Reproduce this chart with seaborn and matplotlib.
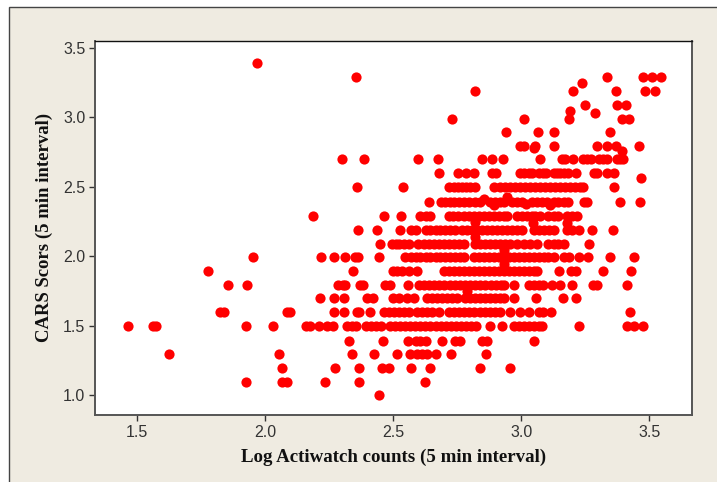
import matplotlib
matplotlib.use("Agg")
import matplotlib.pyplot as plt
from matplotlib.patches import Rectangle
import pandas as pd
import seaborn as sns

sns.set_theme(style="white")
plt.rcParams['font.family'] = ['Liberation Sans', 'DejaVu Sans']

# Row values: x positions
row_100 = [2.444]
row_110 = [1.924, 2.066, 2.086, 2.233, 2.367, 2.623]
row_120 = [2.066, 2.271, 2.367, 2.457, 2.483, 2.57, 2.643, 2.838, 2.955]
row_130 = [1.624, 2.052, 2.34, 2.425, 2.513, 2.565, 2.594, 2.613, 2.632, 2.665, 2.726, 2.862]
row_140 = [2.329, 2.458, 2.556, 2.587, 2.606, 2.626, 2.692, 2.743, 2.762, 2.847, 2.866, 3.051]
row_150 = [1.462, 1.56, 1.573, 1.924, 2.031, 2.159, 2.175, 2.211, 2.242, 2.266, 2.318, 2.337, 2.353,
           2.394, 2.414, 2.434, 2.453, 2.486, 2.505, 2.525, 2.545, 2.565, 2.585, 2.605, 2.625, 2.645,
           2.665, 2.685, 2.705, 2.725, 2.745, 2.765, 2.785, 2.805, 2.825, 2.877, 2.925, 2.97, 2.99,
           3.009, 3.029, 3.048, 3.068, 3.08, 3.226, 3.414, 3.44, 3.474]
row_160 = [1.823, 1.839, 2.086, 2.096, 2.27, 2.306, 2.359, 2.366, 2.409, 2.464, 2.483, 2.503, 2.522,
           2.541, 2.561, 2.594, 2.613, 2.632, 2.652, 2.678, 2.717, 2.736, 2.756, 2.775, 2.795, 2.814,
           2.84, 2.86, 2.879, 2.899, 2.918, 2.957, 2.996, 3.032, 3.068, 3.084, 3.116, 3.425]
row_170 = [2.214, 2.267, 2.306, 2.396, 2.422, 2.5, 2.522, 2.555, 2.581, 2.63, 2.652, 2.671, 2.691,
           2.71, 2.73, 2.749, 2.782, 2.801, 2.821, 2.84, 2.86, 2.879, 2.899, 2.918, 2.931, 2.97,
           3.056, 3.162, 3.212]
row_180 = [1.853, 1.93, 2.285, 2.303, 2.311, 2.372, 2.383, 2.466, 2.486, 2.558, 2.6, 2.62, 2.64, 2.66,
           2.68, 2.7, 2.72, 2.74, 2.76, 2.78, 2.8, 2.82, 2.84, 2.86, 2.88, 2.9, 2.92, 2.931, 2.97,
           3.029, 3.048, 3.068, 3.084, 3.119, 3.152, 3.197, 3.279, 3.295, 3.412]
row_190 = [1.775, 2.344, 2.499, 2.516, 2.535, 2.561, 2.591, 2.697, 2.717, 2.736, 2.756, 2.775, 2.795,
           2.814, 2.834, 2.853, 2.873, 2.892, 2.912, 2.931, 2.951, 2.97, 2.99, 3.009, 3.029, 3.048,
           3.061, 3.148, 3.196, 3.214, 3.318, 3.43]
row_200 = [1.954, 2.217, 2.267, 2.311, 2.35, 2.363, 2.444, 2.544, 2.568, 2.587, 2.606, 2.626, 2.645,
           2.665, 2.684, 2.704, 2.723, 2.743, 2.762, 2.775, 2.814, 2.834, 2.853, 2.873, 2.892, 2.912,
           2.931, 2.951, 2.97, 2.99, 3.009, 3.029, 3.048, 3.068, 3.087, 3.106, 3.126, 3.165, 3.188,
           3.227, 3.262, 3.347, 3.44]
row_210 = [2.45, 2.496, 2.512, 2.522, 2.541, 2.561, 2.596, 2.619, 2.639, 2.658, 2.678, 2.697, 2.717,
           2.736, 2.756, 2.775, 2.821, 2.84, 2.86, 2.879, 2.899, 2.918, 2.938, 2.957, 2.983, 3.009,
           3.035, 3.061, 3.106, 3.126, 3.145, 3.165, 3.265]
row_220 = [2.362, 2.437, 2.525, 2.568, 2.587, 2.626, 2.645, 2.665, 2.684, 2.704, 2.723, 2.743, 2.769,
           2.788, 2.808, 2.827, 2.847, 2.866, 2.886, 2.905, 2.925, 2.944, 2.964, 2.983, 3.003, 3.051,
           3.07, 3.09, 3.109, 3.126, 3.178, 3.197, 3.226, 3.275, 3.357]
row_230 = [2.188, 2.464, 2.531, 2.606, 2.626, 2.645, 2.717, 2.734, 2.752, 2.775, 2.795, 2.814, 2.834,
           2.853, 2.873, 2.892, 2.912, 2.931, 2.944, 2.983, 3.003, 3.022, 3.042, 3.055, 3.074, 3.106,
           3.126, 3.145, 3.178, 3.197, 3.217]
row_240 = [2.638, 2.687, 2.704, 2.721, 2.736, 2.756, 2.775, 2.795, 2.821, 2.84, 2.879, 2.899, 2.916,
           2.931, 2.964, 2.983, 3.003, 3.042, 3.061, 3.081, 3.1, 3.126, 3.145, 3.165, 3.184, 3.245,
           3.258, 3.386, 3.464]
row_250 = [2.357, 2.537, 2.717, 2.736, 2.752, 2.769, 2.786, 2.801, 2.821, 2.892, 2.918, 2.938, 2.957,
           2.977, 2.996, 3.016, 3.035, 3.055, 3.074, 3.094, 3.113, 3.133, 3.152, 3.171, 3.191, 3.21,
           3.23, 3.243, 3.362]
row_260 = [2.677, 2.751, 2.786, 2.817, 2.886, 2.903, 2.994, 3.009, 3.029, 3.042, 3.068, 3.084, 3.097,
           3.126, 3.139, 3.152, 3.165, 3.184, 3.214, 3.284, 3.297, 3.334, 3.364]
row_270 = [2.298, 2.387, 2.595, 2.673, 2.847, 2.886, 2.93, 3.075, 3.161, 3.171, 3.201, 3.24, 3.258,
           3.271, 3.305, 3.318, 3.336, 3.375, 3.386, 3.399]
row_280 = [2.994, 3.009, 3.053, 3.129, 3.297, 3.334, 3.369, 3.46]
row_290 = [2.939, 3.065, 3.129, 3.348]
row_300 = [2.73, 3.012, 3.187, 3.392, 3.422]
row_310 = [3.25, 3.374, 3.408]
row_320 = [2.818, 3.201, 3.371, 3.483, 3.522]
row_330 = [2.353, 3.336, 3.474, 3.512, 3.544]
row_340 = [1.969]

row_levels = [0.999, 1.095, 1.195, 1.297, 1.392, 1.5, 1.598, 1.7, 1.795, 1.896, 1.994, 2.09, 2.19,
              2.289, 2.39, 2.5, 2.595, 2.695, 2.793, 2.89, 2.99, 3.09, 3.186, 3.287, 3.39]
rows = [row_100, row_110, row_120, row_130, row_140, row_150, row_160, row_170, row_180, row_190,
        row_200, row_210, row_220, row_230, row_240, row_250, row_260, row_270, row_280, row_290,
        row_300, row_310, row_320, row_330, row_340]

# Points that sit off the rows
extra_x = [2.856, 2.892, 2.944, 3.018, 3.113, 2.818, 3.044, 3.18, 2.821, 2.931, 2.931, 2.788,
           3.236, 3.288, 3.19, 3.392, 3.469, 3.048]
extra_y = [2.41, 2.365, 2.425, 2.375, 2.365, 2.245, 2.24, 2.24, 2.14, 2.045, 1.945, 1.745,
           3.245, 3.03, 3.045, 2.755, 2.56, 2.78]

xs, ys = [], []
for level, row in zip(row_levels, rows):
    xs += row
    ys += [level] * len(row)
xs += extra_x
ys += extra_y
df = pd.DataFrame({"actiwatch": xs, "cars": ys})

x_ticks = [1.5, 2.0, 2.5, 3.0, 3.5]
y_ticks = [1.0, 1.5, 2.0, 2.5, 3.0, 3.5]

W, H = 717, 482
fig = plt.figure(figsize=(W / 100, H / 100), dpi=100, facecolor="white")
fig.add_artist(Rectangle((8.5 / W, -0.1), 1.0, 1.1 - 6.5 / H, transform=fig.transFigure,
                         facecolor="#EFEBE1", edgecolor="#444444", linewidth=1.0, zorder=-5))
ax = fig.add_axes([95 / W, 1 - 415 / H, (692.3 - 95) / W, (415 - 40.7) / H], facecolor="white")

sns.scatterplot(data=df, x="actiwatch", y="cars", color="#FF0000", s=54, linewidth=0, alpha=1,
                ax=ax, zorder=3)

ax.set_xlim(1.335, 3.668)
ax.set_ylim(0.856, 3.55)
ax.set_xticks(x_ticks)
ax.set_yticks(y_ticks)
ax.set_xticklabels([f"{t:.1f}" for t in x_ticks])
ax.set_yticklabels([f"{t:.1f}" for t in y_ticks])
ax.tick_params(axis="x", direction="out", length=4, width=1, color="#333333",
               labelcolor="#333333", labelsize=11.5, pad=3.5, bottom=True)
ax.tick_params(axis="y", direction="out", length=4, width=1, color="#333333",
               labelcolor="#333333", labelsize=11.5, pad=3, left=True)
ax.grid(False)
for side, col, lw in [("top", "#111111", 1.0), ("right", "#555555", 1.4),
                      ("left", "#555555", 1.4), ("bottom", "#555555", 1.4)]:
    ax.spines[side].set_visible(True)
    ax.spines[side].set_color(col)
    ax.spines[side].set_linewidth(lw)

ax.set_xlabel("Log Actiwatch counts (5 min interval)", family="Liberation Serif", weight="bold",
              fontsize=13.6, color="#111111", labelpad=6)
ax.set_ylabel("CARS Scors (5 min interval)", family="Liberation Serif", weight="bold",
              fontsize=13.5, color="#111111", labelpad=7)

fig.savefig("out.png", dpi=100)
